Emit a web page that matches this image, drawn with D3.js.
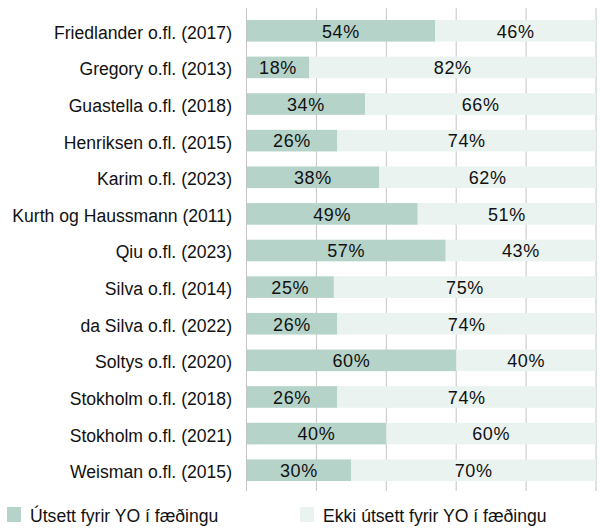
<!DOCTYPE html>
<html lang="is">
<head>
<meta charset="UTF-8">
<title>Útsett fyrir YO</title>
<style>
  body { margin: 0; background: #fff; font-family: "Liberation Sans", Arial, sans-serif; }
  text { fill: #111; }
</style>
</head>
<body>
<script src="https://d3js.org/d3.v7.min.js"></script>
<div id="chart"></div>
<script>
  // rannsóknir og hlutfall útsettra
  var studies = ["Friedlander o.fl. (2017)", "Gregory o.fl. (2013)", "Guastella o.fl. (2018)",
    "Henriksen o.fl. (2015)", "Karim o.fl. (2023)", "Kurth og Haussmann (2011)", "Qiu o.fl. (2023)",
    "Silva o.fl. (2014)", "da Silva o.fl. (2022)", "Soltys o.fl. (2020)", "Stokholm o.fl. (2018)",
    "Stokholm o.fl. (2021)", "Weisman o.fl. (2015)"]
  var exposed = [54, 18, 34, 26, 38, 49, 57, 25, 26, 60, 26, 40, 30]
  var notExposed = [46, 82, 66, 74, 62, 51, 43, 75, 74, 40, 74, 60, 70]
  var seriesNames = ["Útsett fyrir YO í fæðingu", "Ekki útsett fyrir YO í fæðingu"]
  var ticks = [0, 20, 40, 60, 80, 100]

  var width = 600, height = 529
  var colors = ["#b5d3c9", "#eaf3f0"]

  var svg = d3.select("#chart").append("svg")
    .attr("width", width)
    .attr("height", height)

  var x = d3.scaleLinear().domain([0, 100]).range([246.5, 596])
  var y = d3.scaleBand().domain(studies).range([9, 492]).paddingInner(0.41).paddingOuter(0.3)

  // gridlines behind the bars
  svg.append("g").selectAll("line")
    .data(ticks.slice(1))
    .join("line")
    .attr("x1", d => x(d)).attr("x2", d => x(d))
    .attr("y1", 8).attr("y2", 491)
    .attr("stroke", d => d == 100 ? "#b8c4c0" : "#c4c4c4")
    .attr("stroke-width", 1)

  var rows = studies.map((s, i) => ({ name: s, vals: [exposed[i], notExposed[i]] }))

  var row = svg.append("g").selectAll("g")
    .data(rows)
    .join("g")
    .attr("transform", d => "translate(0," + y(d.name) + ")")

  row.each(function (d) {
    var g = d3.select(this)
    var start = 0
    d.vals.forEach(function (v, k) {
      g.append("rect")
        .attr("x", x(start))
        .attr("y", 0)
        .attr("width", x(start + v) - x(start))
        .attr("height", y.bandwidth())
        .attr("fill", colors[k])
      g.append("text")
        .attr("x", (x(start) + x(start + v)) / 2)
        .attr("y", y.bandwidth() / 2)
        .attr("dy", "0.38em")
        .attr("text-anchor", "middle")
        .style("font-size", "18px")
        .style("letter-spacing", "0.6px")
        .text(v + "%")
      start += v
    })
  })

  // y axis labels
  var yAxis = d3.axisLeft(y).tickSize(0).tickPadding(14.5)
  var ya = svg.append("g")
    .attr("transform", "translate(" + 246.5 + ",0)")
    .call(yAxis)
  ya.select(".domain").remove()
  ya.selectAll("text")
    .attr("dy", "0.45em")
    .style("font-size", "17.6px")
    .style("font-family", "'Liberation Sans', Arial, sans-serif")
    .attr("fill", "#111")

  svg.append("line")
    .attr("x1", 246.5).attr("x2", 246.5)
    .attr("y1", 8).attr("y2", 491)
    .attr("stroke", "#c4c4c4")

  // legend
  var legend = svg.append("g").selectAll("g")
    .data(seriesNames)
    .join("g")
    .attr("transform", (d, i) => "translate(" + (i == 0 ? 7 : 300) + ",507)")
  legend.append("rect")
    .attr("width", 14).attr("height", 15)
    .attr("fill", (d, i) => colors[i])
  legend.append("text")
    .attr("x", 23).attr("y", 9).attr("dy", "0.36em")
    .style("font-size", "17.6px")
    .text(d => d)
</script>
</body>
</html>
